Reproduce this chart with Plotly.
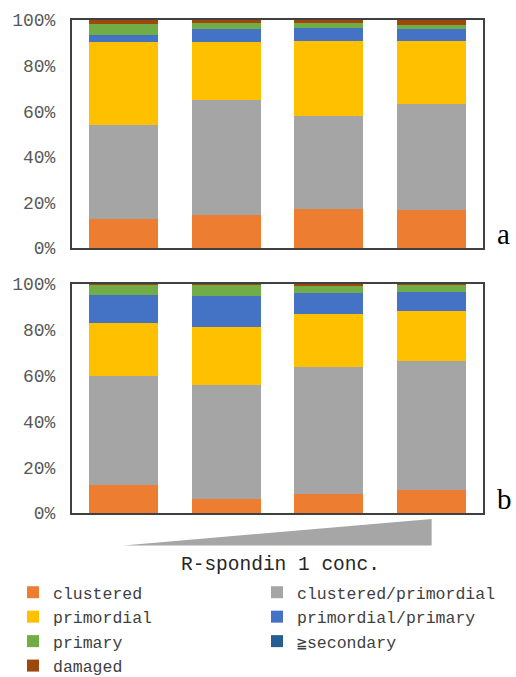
import plotly.graph_objects as go

categories = ["c1", "c2", "c3", "c4"]
series_names = ["clustered", "clustered/primordial", "primordial", "primordial/primary",
                "primary", "≧secondary", "damaged"]
colors = ["#ED7D31", "#A5A5A5", "#FFC000", "#4472C4", "#70AD47", "#255E91", "#9E480E"]

# panel a (percent)
a_clustered = [12.7, 14.3, 17.1, 16.8]
a_clustered_primordial = [41.3, 50.7, 40.6, 46.3]
a_primordial = [36.2, 25.3, 33.1, 27.9]
a_primordial_primary = [3.2, 5.7, 5.8, 5.0]
a_primary = [4.7, 2.6, 2.2, 1.9]
a_secondary = [0, 0, 0, 0]
a_damaged = [1.9, 1.4, 1.2, 2.1]

# panel b (percent)
b_clustered = [12.4, 6.0, 8.3, 10.1]
b_clustered_primordial = [47.6, 49.9, 55.5, 56.4]
b_primordial = [22.9, 25.5, 23.1, 21.5]
b_primordial_primary = [12.4, 13.4, 9.1, 8.5]
b_primary = [4.4, 4.8, 3.4, 3.2]
b_secondary = [0, 0, 0, 0]
b_damaged = [0.3, 0.4, 0.6, 0.3]

y_ticks = [0, 20, 40, 60, 80, 100]
y_tick_labels = ["0%", "20%", "40%", "60%", "80%", "100%"]

panel_a = [a_clustered, a_clustered_primordial, a_primordial, a_primordial_primary,
           a_primary, a_secondary, a_damaged]
panel_b = [b_clustered, b_clustered_primordial, b_primordial, b_primordial_primary,
           b_primary, b_secondary, b_damaged]

fig = go.Figure()
for name, col, vals in zip(series_names, colors, panel_a):
    fig.add_trace(go.Bar(x=categories, y=vals, name=name, marker=dict(color=col, line=dict(width=0)),
                         xaxis="x", yaxis="y", showlegend=False))
for name, col, vals in zip(series_names, colors, panel_b):
    fig.add_trace(go.Bar(x=categories, y=vals, name=name, marker=dict(color=col, line=dict(width=0)),
                         xaxis="x2", yaxis="y2", showlegend=True))

W, H = 516, 677
def px_x(p):
    return p / W
def px_y(p):
    return (H - p) / H

mono = "Liberation Mono, DejaVu Sans Mono, monospace"
tickfont = dict(family=mono, size=18, color="#595959")
axis_line = dict(showline=True, mirror=True, linecolor="#404040", linewidth=2, automargin=False)

fig.update_layout(
    width=W, height=H,
    margin=dict(l=0, r=0, t=0, b=0, autoexpand=False),
    paper_bgcolor="white", plot_bgcolor="white",
    barmode="stack", bargap=0.33,
    xaxis=dict(domain=[px_x(72), px_x(483)], anchor="y", showticklabels=False, ticks="",
               showgrid=False, **axis_line),
    yaxis=dict(domain=[px_y(248), px_y(20)], anchor="x", range=[0, 100], tickvals=y_ticks,
               ticktext=y_tick_labels, ticks="", showgrid=False, zeroline=False, tickfont=tickfont,
               ticklabelstandoff=11, **axis_line),
    xaxis2=dict(domain=[px_x(72), px_x(483)], anchor="y2", showticklabels=False, ticks="",
                showgrid=False, **axis_line),
    yaxis2=dict(domain=[px_y(513), px_y(284)], anchor="x2", range=[0, 100], tickvals=y_ticks,
                ticktext=y_tick_labels, ticks="", showgrid=False, zeroline=False, tickfont=tickfont,
                ticklabelstandoff=11, **axis_line),
    legend=dict(orientation="h", x=px_x(13), xanchor="left", y=px_y(575), yanchor="top",
                traceorder="normal", entrywidth=199, entrywidthmode="pixels",
                font=dict(family=mono, size=16.5, color="#404040"),
                tracegroupgap=0, itemclick=False, bgcolor="rgba(0,0,0,0)"),
    showlegend=True,
)

# wedge indicating increasing concentration (from first to last category)
fig.add_shape(type="path", xref="x2", yref="paper",
              path=f"M 0,{px_y(545.5)} L 3,{px_y(545.5)} L 3,{px_y(519)} Z",
              fillcolor="#A6A6A6", line=dict(width=0))

fig.add_annotation(text="R-spondin 1 conc.", xref="paper", yref="paper", x=px_x(280), y=px_y(565),
                   xanchor="center", yanchor="middle", showarrow=False,
                   font=dict(family=mono, size=19.5, color="#262626"))
fig.add_annotation(text="a", xref="paper", yref="paper", x=px_x(503), y=px_y(234),
                   xanchor="center", yanchor="middle", showarrow=False,
                   font=dict(family="Liberation Serif, serif", size=29, color="black"))
fig.add_annotation(text="b", xref="paper", yref="paper", x=px_x(504), y=px_y(499),
                   xanchor="center", yanchor="middle", showarrow=False,
                   font=dict(family="Liberation Serif, serif", size=29, color="black"))

fig.write_html("out.html", config={"displayModeBar": False},
               post_script="document.body.style.margin='0';document.body.style.overflow='hidden';")
